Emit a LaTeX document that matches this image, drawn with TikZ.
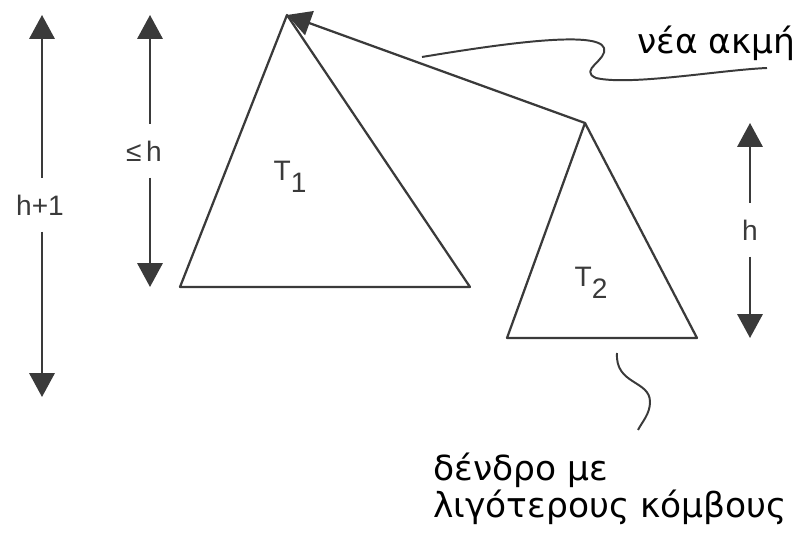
\documentclass[tikz,border=0pt]{standalone}
\usepackage{fontspec}
\setmainfont{Liberation Sans}
\newfontfamily\greekfont{DejaVu Sans}
\usetikzlibrary{arrows.meta}
\definecolor{pencil}{HTML}{3A3A3A}
\tikzset{
  ink/.style={draw=pencil, line width=1.6pt, line join=round},
  dimtip/.style={ink, -{Triangle[width=18pt,length=17pt]}, fill=pencil},
  dimlabel/.style={inner sep=0pt, minimum height=38pt, text=pencil,
    font=\fontsize{20}{20}\selectfont},
  greeklabel/.style={inner sep=0pt, font=\greekfont\fontsize{24.5}{27}\selectfont}
}
\begin{document}
\begin{tikzpicture}[x=0.025cm, y=-0.025cm]
    \useasboundingbox (0,0) rectangle (802,536);
    % Two subtrees
    \coordinate (t1apex) at (287,15);
    \coordinate (t1left) at (180,287);
    \coordinate (t1right) at (470,287);
    \coordinate (t2apex) at (585,123);
    \coordinate (t2left) at (507,338);
    \coordinate (t2right) at (697,338);
    \draw[ink] (t1apex) -- (t1left) -- (t1right) -- cycle;
    \draw[ink] (t2apex) -- (t2left) -- (t2right) -- cycle;
    \node[dimlabel, minimum height=0pt] (tone) at (290,177) {T\raisebox{-9pt}{1}};
    \node[dimlabel, minimum height=0pt] (ttwo) at (591,283) {T\raisebox{-9pt}{2}};
    % New edge
    \draw[dimtip] (t2apex) -- (t1apex);
    % Height arrows
    \coordinate (hponetop) at (42,15);
    \coordinate (hponebot) at (42,397);
    \node[dimlabel] (hpone) at (40,205) {h+1};
    \draw[dimtip] (hpone.north -| hponetop) -- (hponetop);
    \draw[dimtip] (hpone.south -| hponebot) -- (hponebot);
    \coordinate (lehtop) at (150,15);
    \coordinate (lehbot) at (150,287);
    \node[dimlabel] (leh) at (144,151) {≤\,h};
    \draw[dimtip] (leh.north -| lehtop) -- (lehtop);
    \draw[dimtip] (leh.south -| lehbot) -- (lehbot);
    \coordinate (htop) at (750,123);
    \coordinate (hbot) at (750,338);
    \node[dimlabel] (hh) at (750,230) {h};
    \draw[dimtip] (hh.north) -- (htop);
    \draw[dimtip] (hh.south) -- (hbot);
    % Callouts
    \node[greeklabel, anchor=base east] (newedge) at (796,54) {νέα ακμή};
    \coordinate (edgewave) at (422,57);
    \draw[ink, line width=1.4pt] (edgewave)
        .. controls (500,44) and (598,30) .. (604,48)
        .. controls (608,60) and (578,70) .. (596,78)
        .. controls (630,86) and (720,70) .. (767,68);
    \node[greeklabel, anchor=base west, align=left] (fewer) at (433,518)
        {δένδρο με\\λιγότερους κόμβους};
    \coordinate (treewave) at (617,353);
    \draw[ink, line width=1.4pt] (treewave)
        .. controls (615,385) and (650,380) .. (650,402)
        .. controls (650,414) and (642,422) .. (638,430);
\end{tikzpicture}
\end{document}
